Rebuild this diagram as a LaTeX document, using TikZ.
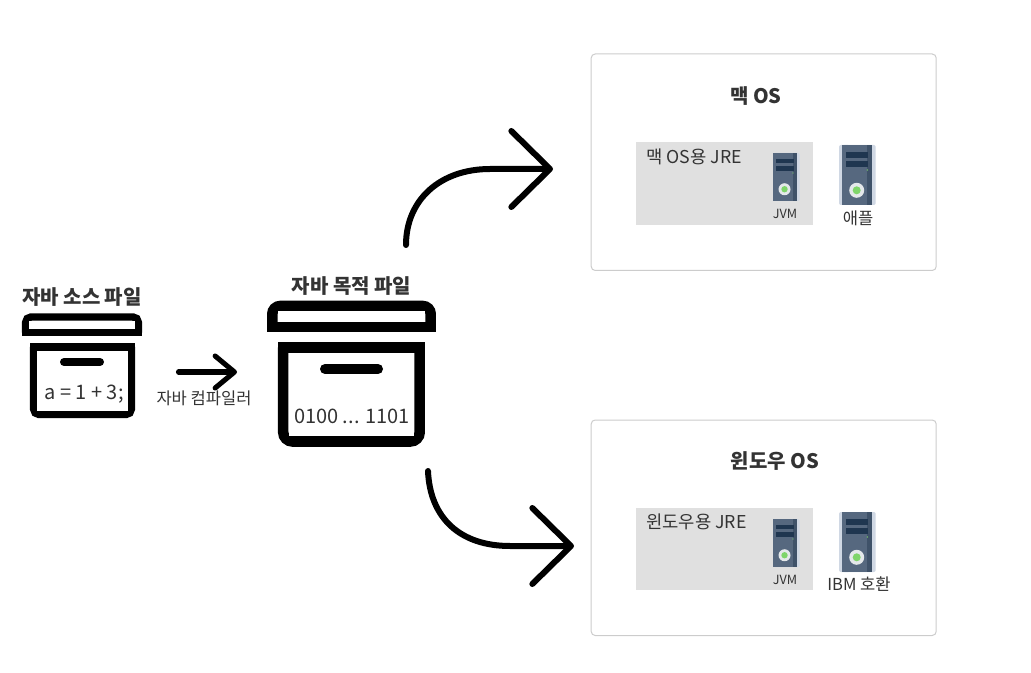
\documentclass[tikz,border=0pt]{standalone}
\usepackage{fontspec}
\setmainfont{Noto Sans CJK KR}
\usetikzlibrary{arrows.meta}
\definecolor{textdark}{HTML}{333333}
\definecolor{panelline}{HTML}{CCCCCC}
\definecolor{jregray}{HTML}{E0E0E0}
\definecolor{srvbody}{HTML}{56687F}
\definecolor{srvdark}{HTML}{3F5269}
\definecolor{srvslot}{HTML}{1F3650}
\definecolor{srvlight}{HTML}{D0D8E4}
\definecolor{srvgreen}{HTML}{7FD56A}
\definecolor{srvring}{HTML}{E4E8EA}
\tikzset{
  x=0.75pt,y=-0.75pt,
  panel/.style={draw=panelline,line width=0.75pt,rounded corners=3pt,fill=white,outer sep=0pt,inner sep=0pt,anchor=north west},
  jrebox/.style={fill=jregray},
  title/.style={font=\fontsize{15pt}{18pt}\selectfont\bfseries,text=textdark,anchor=center,inner sep=0pt},
  label/.style={font=\fontsize{12.4pt}{14pt}\selectfont,text=textdark,anchor=center,inner sep=0pt},
  jrelabel/.style={font=\fontsize{13.3pt}{16pt}\selectfont,text=textdark,anchor=west,inner sep=0pt},
  jvmlabel/.style={font=\fontsize{9.5pt}{11pt}\selectfont,text=textdark,anchor=center,inner sep=0pt},
  content/.style={font=\fontsize{15pt}{18pt}\selectfont,text=textdark,anchor=center,inner sep=0pt},
  flow/.style={line width=#1,line cap=round},
  pics/server/.style={code={
    \fill[srvlight,rounded corners=1.5pt] (0,0) rectangle (33.4,60);
    \fill[srvbody] (0,0) rectangle (25,60);
    \fill[srvdark] (25,0) rectangle (29.4,60);
    \fill[srvslot] (3.7,7) rectangle (26,13);
    \fill[srvslot] (3.7,16) rectangle (26,22);
    \fill[srvgreen] (25,25) circle[radius=0.7];
    \fill[srvring] (14.4,45.3) circle[radius=7.5];
    \fill[srvgreen] (14.4,45.3) circle[radius=4];
  }},
}
\begin{document}
\begin{tikzpicture}
\useasboundingbox (0,0) rectangle (1031,673);

\draw[line width=5.6pt,rounded corners=4pt] (25.7,332.6) -- (25.7,317) -- (138.3,317) -- (138.3,332.6);
\draw[line width=5.6pt,line cap=rect] (25.7,332.6) -- (138.3,332.6);
\fill[white] (29.4,320.7) rectangle (134.6,328.9);
\draw[line width=5.6pt,rounded corners=4pt] (131.3,347) -- (131.3,414.5) -- (33.7,414.5) -- (33.7,347);
\draw[line width=5.6pt,line cap=rect] (33.7,347) -- (131.3,347);
\fill[white] (37.4,350.7) rectangle (127.6,410.8);
\draw[line width=6pt,line cap=round] (64,362) -- (100,362);
\node[title] (srctitle) at (82,297.5) {자바 소스 파일};
\node[content] (srccode) at (84,394) {a = 1 + 3;};

\coordinate (compstart) at (178.5,372);
\coordinate (compend) at (237,372);
\draw[flow=3.8pt,-{Straight Barb[round,length=14.5pt,width=24pt]}] (compstart) -- (compend);
\node[label] (complabel) at (204,398) {자바 컴파일러};

\draw[line width=7.9pt,rounded corners=6pt] (272.3,327.2) -- (272.3,306) -- (430.7,306) -- (430.7,327.2);
\draw[line width=7.9pt,line cap=rect] (272.3,327.2) -- (430.7,327.2);
\fill[white] (277.6,311.3) rectangle (425.4,321.9);
\draw[line width=7.9pt,rounded corners=7pt] (419.7,347.5) -- (419.7,441.5) -- (283.2,441.5) -- (283.2,347.5);
\draw[line width=7.9pt,line cap=rect] (283.2,347.5) -- (419.7,347.5);
\fill[white] (288.5,352.8) rectangle (414.4,436.2);
\draw[line width=7.5pt,line cap=round] (325,369) -- (378,369);
\node[title] (dsttitle) at (351.5,286.5) {자바 목적 파일};
\node[content] (dstcode) at (352,416) {0100 ... 1101};

\coordinate (macstart) at (406,245);
\coordinate (macend) at (553,169);
\draw[flow=4.5pt,-{Straight Barb[round,length=29pt,width=57pt]}] (macstart) .. controls (406,200) and (440,169) .. (490,169) -- (macend);
\coordinate (winstart) at (428,471);
\coordinate (winend) at (574,546);
\draw[flow=4.5pt,-{Straight Barb[round,length=29pt,width=57pt]}] (winstart) .. controls (430,518) and (460,546) .. (510,546) -- (winend);

\node[panel,minimum width=345*0.75pt,minimum height=216.5*0.75pt] (macpanel) at (591.2,54) {};
\node[title] (mactitle) at (756,96) {맥 OS};
\fill[jrebox] (636,142.3) rectangle (813,225);
\node[jrelabel] (macjre) at (646,156.5) {맥 OS용 JRE};
\pic[scale=0.8] (macjvm) at (773,153) {server};
\node[jvmlabel] (macjvmlabel) at (785,214) {JVM};
\fill[srvlight,rounded corners=1.5pt] (839,145) rectangle (850,205);
\pic (macsrv) at (842.3,145) {server};
\node[label] (macsrvlabel) at (858,218) {애플};

\node[panel,minimum width=345*0.75pt,minimum height=215.5*0.75pt] (winpanel) at (591.2,420) {};
\node[title] (wintitle) at (775,461) {윈도우 OS};
\fill[jrebox] (636,508.3) rectangle (813,589.7);
\node[jrelabel] (winjre) at (646,522) {윈도우용 JRE};
\pic[scale=0.8] (winjvm) at (773,519) {server};
\node[jvmlabel] (winjvmlabel) at (785,580) {JVM};
\fill[srvlight,rounded corners=1.5pt] (839,512) rectangle (850,572);
\pic (winsrv) at (842.3,512) {server};
\node[label] (winsrvlabel) at (859,584) {IBM 호환};
\end{tikzpicture}
\end{document}
